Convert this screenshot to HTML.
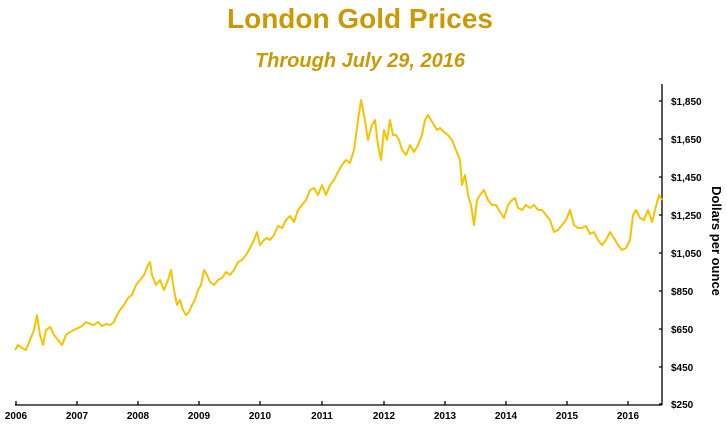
<!DOCTYPE html>
<html><head><style>
body{margin:0;background:#fff;width:727px;height:432px;overflow:hidden;font-family:"Liberation Sans",sans-serif}
</style></head><body>
<svg width="727" height="432" xmlns="http://www.w3.org/2000/svg">
<text x="360" y="28" text-anchor="middle" font-family="Liberation Sans" font-weight="bold" font-size="28" fill="#C99A06">London Gold Prices</text>
<text x="360" y="67" text-anchor="middle" font-family="Liberation Sans" font-weight="bold" font-style="italic" font-size="20" fill="#C99A06">Through July 29, 2016</text>
<g stroke="#000" stroke-width="1.3" fill="none">
<line x1="662" y1="84" x2="662" y2="405"/>
<line x1="15" y1="405" x2="662" y2="405"/>
<path d="M659 101H662M659 139H662M659 177H662M659 215H662M659 253H662M659 291H662M659 329H662M659 367H662M659 404H662"/>
<path d="M16 405V401M77 405V401M138 405V401M199 405V401M260 405V401M322 405V401M384 405V401M445 405V401M506 405V401M567 405V401M628 405V401"/>
</g>
<g font-family="Liberation Sans" font-weight="bold" font-size="10" fill="#000">
<text x="671" y="105">$1,850</text><text x="671" y="143">$1,650</text><text x="671" y="181">$1,450</text><text x="671" y="219">$1,250</text><text x="671" y="257">$1,050</text><text x="671" y="295">$850</text><text x="671" y="333">$650</text><text x="671" y="371">$450</text><text x="671" y="408">$250</text>
</g>
<g font-family="Liberation Sans" font-weight="bold" font-size="10" fill="#000" text-anchor="middle">
<text x="16" y="419">2006</text><text x="77" y="419">2007</text><text x="138" y="419">2008</text><text x="199" y="419">2009</text><text x="260" y="419">2010</text><text x="322" y="419">2011</text><text x="384" y="419">2012</text><text x="445" y="419">2013</text><text x="506" y="419">2014</text><text x="567" y="419">2015</text><text x="628" y="419">2016</text>
</g>
<text transform="translate(712,241) rotate(90)" text-anchor="middle" font-family="Liberation Sans" font-weight="bold" font-size="13" fill="#000">Dollars per ounce</text>
<polyline fill="none" stroke="#F5C400" stroke-width="2" stroke-linejoin="round" points="15,350 18,345 22,348 26,350 30,340 34,330 37,315 40,335 43,345 46,330 50,327 54,335 58,340 62,345 66,335 70,332 74,330 78,328 82,326 86,322 90,324 94,325 98,322 102,326 106,324 110,325 114,322 117,315 120,310 124,305 128,298 132,295 136,285 140,280 144,275 148,265 150,262 152,275 156,285 160,280 164,290 168,280 171,270 174,290 177,305 180,300 183,310 186,315 189,312 192,305 195,300 198,290 201,285 204,270 207,275 210,282 214,285 218,280 222,278 226,272 230,275 234,270 238,262 242,260 246,255 250,248 254,240 257,232 260,245 264,240 267,238 270,240 274,235 278,226 282,228 286,220 290,216 294,222 298,210 302,205 306,200 310,190 314,188 318,195 322,185 326,195 330,185 334,180 338,172 342,165 346,160 350,163 354,150 358,120 361,100 364,115 368,140 372,125 375,120 378,145 381,160 384,130 387,140 390,120 393,135 396,135 399,140 402,150 406,155 410,145 414,152 418,145 422,135 425,120 428,115 431,120 434,125 437,130 440,128 444,132 448,135 452,140 456,150 460,160 462,185 465,175 468,195 471,205 474,225 477,200 480,195 484,190 488,200 492,205 496,205 500,212 504,218 508,205 512,200 515,198 518,208 522,210 526,205 530,208 534,205 538,210 542,210 546,215 550,220 554,232 558,230 562,225 566,220 570,210 574,225 578,228 582,228 586,226 590,234 594,232 598,240 602,245 606,240 610,232 614,238 618,245 622,250 626,248 630,240 633,215 636,210 640,218 644,220 648,210 652,222 655,210 659,195 662,200"/>
</svg>
</body></html>
